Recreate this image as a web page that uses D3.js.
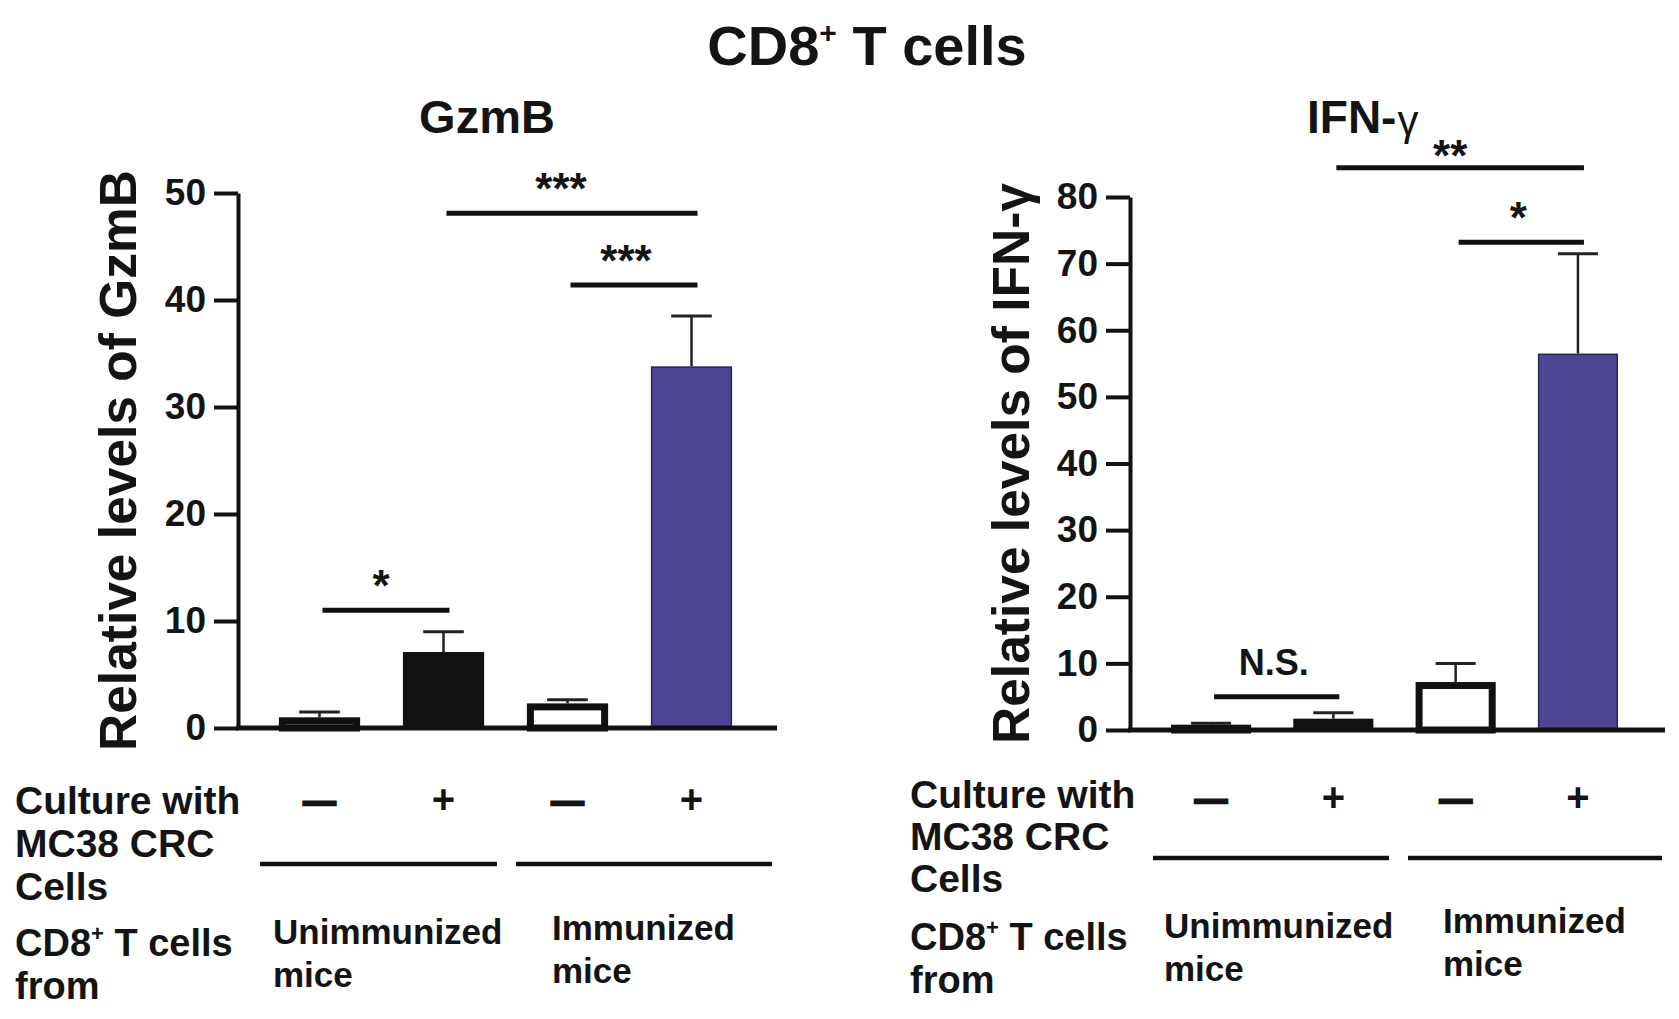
<!DOCTYPE html>
<html>
<head>
<meta charset="utf-8">
<script src="https://cdn.jsdelivr.net/npm/d3@7"></script>
<style>
  html, body { margin: 0; padding: 0; background: #fff; }
  svg { display: block; }
  text { font-family: "Liberation Sans", Arial, sans-serif; fill: #141414; }
</style>
</head>
<body>
<svg id="chart"></svg>
<script>
// values
const conditions = ["unimm -", "unimm +", "imm -", "imm +"]
const cultureSigns = ["\u2014", "+", "\u2014", "+"]
const groupNames = [["Unimmunized", "mice"], ["Immunized", "mice"]]

const gzmbMean = [1.0, 7.1, 2.3, 33.8]
const gzmbErr = [0.5, 1.9, 0.35, 4.7]
const gzmbTicks = [0, 10, 20, 30, 40, 50]
const gzmbSig = [
  { a: 0, b: 1, y: 11.0, label: "*" },
  { a: 2, b: 3, y: 41.4, label: "***" },
  { a: 1, b: 3, y: 48.1, label: "***" }
]

const ifnMean = [0.8, 1.7, 7.2, 56.5]
const ifnErr = [0.2, 0.9, 2.8, 15.0]
const ifnTicks = [0, 10, 20, 30, 40, 50, 60, 70, 80]
const ifnSig = [
  { a: 0, b: 1, y: 5.0, label: "N.S." },
  { a: 2, b: 3, y: 73.2, label: "*" },
  { a: 1, b: 3, y: 84.4, label: "**" }
]

const barFill = ["#fff", "#111", "#fff", "#4e4594"]
const barStroke = [7, 0, 7, 1.5]

const W = 1679, H = 1019
const svg = d3.select("#chart").attr("width", W).attr("height", H)

// main title
svg.append("text")
  .attr("x", 867).attr("y", 65)
  .attr("text-anchor", "middle")
  .style("font-size", "56px").style("font-weight", "bold")
  .call(t => {
    t.append("tspan").text("CD8")
    t.append("tspan").attr("dy", -22).style("font-size", "30px").text("+")
    t.append("tspan").attr("dy", 22).text(" T cells")
  })

let panels = [
  {
    mean: gzmbMean, err: gzmbErr, ticks: gzmbTicks, sig: gzmbSig, max: 50,
    axisX: 238, axisEnd: 777, yRange: [728, 193], band: [257.5, 753.5],
    titleX: 487, titleY: 133, ylabX: 136,
    rowX: 15, rowY: [814, 857, 900, 956, 999], signY: 813,
    groupLineY: 864, groupLines: [[260, 497], [516, 772]],
    groupX: [273, 552], groupY: [944, 940],
    sigDx: [-5, -8, -11]
  },
  {
    mean: ifnMean, err: ifnErr, ticks: ifnTicks, sig: ifnSig, max: 80,
    axisX: 1130, axisEnd: 1665, yRange: [730, 197], band: [1149.9, 1639.1],
    titleX: 1307, titleY: 133, ylabX: 1029,
    rowX: 910, rowY: [808, 850, 892, 950, 993], signY: 811,
    groupLineY: 858, groupLines: [[1153, 1389], [1408, 1662]],
    groupX: [1164, 1443], groupY: [938, 933],
    sigDx: [-3, -3, -10]
  }
]

panels.forEach((p, pi) => {
  let g = svg.append("g")
  let y = d3.scaleLinear().domain([0, p.max]).range(p.yRange)
  let x = d3.scaleBand().domain(conditions).range(p.band)
    .paddingInner(0.345).paddingOuter(0.1725)
  let bw = x.bandwidth()
  let cx = i => x(conditions[i]) + bw / 2

  // panel title
  if (pi === 0) {
    g.append("text").attr("x", p.titleX).attr("y", p.titleY)
      .attr("text-anchor", "middle")
      .style("font-size", "47px").style("font-weight", "bold")
      .text("GzmB")
  } else {
    let t = g.append("text").attr("x", p.titleX).attr("y", p.titleY)
      .style("font-size", "46px").style("font-weight", "bold")
    t.append("tspan").text("IFN-")
    t.append("tspan").style("font-weight", "normal").style("font-size", "42px")
      .attr("dx", 1).attr("dy", 2).text("\u03b3")
  }

  // y axis label
  g.append("text")
    .attr("transform", `translate(${p.ylabX},${(p.yRange[0] + p.yRange[1]) / 2}) rotate(-90)`)
    .attr("text-anchor", "middle")
    .style("font-size", "51.5px").style("font-weight", "bold")
    .text(pi === 0 ? "Relative levels of GzmB" : "Relative levels of IFN-\u03b3")

  // bars
  g.selectAll(".bar")
    .data(p.mean)
    .enter()
    .append("rect")
    .attr("class", "bar")
    .attr("x", (d, i) => x(conditions[i]) + barStroke[i] / 2)
    .attr("y", (d, i) => y(d) + barStroke[i] / 2)
    .attr("width", (d, i) => bw - barStroke[i])
    .attr("height", (d, i) => Math.max(0, y(0) - y(d) - barStroke[i] / 2))
    .attr("fill", (d, i) => barFill[i])
    .attr("stroke", (d, i) => i === 3 ? "#2a2450" : "#111")
    .attr("stroke-width", (d, i) => barStroke[i])

  // error bars (upper only)
  let eb = g.selectAll(".err")
    .data(p.mean.map((m, i) => ({ m, e: p.err[i], i })))
    .enter()
    .append("g")
    .attr("class", "err")
  eb.append("line")
    .attr("x1", d => cx(d.i)).attr("x2", d => cx(d.i))
    .attr("y1", d => y(d.m)).attr("y2", d => y(d.m + d.e))
    .attr("stroke", "#222").attr("stroke-width", 2.5)
  eb.append("line")
    .attr("x1", d => cx(d.i) - bw / 4).attr("x2", d => cx(d.i) + bw / 4)
    .attr("y1", d => y(d.m + d.e)).attr("y2", d => y(d.m + d.e))
    .attr("stroke", "#222").attr("stroke-width", 3)

  // y axis
  let yAxis = g.append("g")
    .attr("transform", `translate(${p.axisX},0)`)
    .call(d3.axisLeft(y).tickValues(p.ticks).tickSize(24).tickSizeOuter(0).tickPadding(8))
  yAxis.select(".domain").attr("stroke", "#111").attr("stroke-width", 4)
  yAxis.selectAll(".tick line").attr("stroke", "#111").attr("stroke-width", 4)
  yAxis.selectAll(".tick text")
    .attr("fill", "#141414")
    .style("font-size", "37px").style("font-weight", "bold")
    .style("font-family", "'Liberation Sans', Arial, sans-serif")

  // x axis baseline
  g.append("line")
    .attr("x1", p.axisX - 2).attr("x2", p.axisEnd)
    .attr("y1", y(0)).attr("y2", y(0))
    .attr("stroke", "#111").attr("stroke-width", 5)

  // significance brackets
  p.sig.forEach((s, si) => {
    let x1 = cx(s.a) + 3
    let x2 = cx(s.b) + 6
    let ly = y(s.y)
    g.append("line")
      .attr("x1", x1).attr("x2", x2).attr("y1", ly).attr("y2", ly)
      .attr("stroke", "#111").attr("stroke-width", 5)
    let isStar = s.label.indexOf("*") >= 0
    g.append("text")
      .attr("x", (x1 + x2) / 2 + p.sigDx[si])
      .attr("y", isStar ? ly + (s.label === "**" ? 3 : -9) : ly - 22)
      .attr("text-anchor", "middle")
      .style("font-size", isStar ? "44px" : "36px").style("font-weight", "bold")
      .text(s.label)
  })

  // culture signs
  g.selectAll(".sign")
    .data(cultureSigns)
    .enter()
    .append("text")
    .attr("class", "sign")
    .attr("x", (d, i) => cx(i))
    .attr("y", (d, i) => d === "+" ? p.signY : p.signY - 1)
    .attr("text-anchor", "middle")
    .style("font-size", d => d === "+" ? "40px" : "32px")
    .style("font-weight", "bold")
    .attr("stroke", d => d === "+" ? "none" : "#141414")
    .attr("stroke-width", 2.5)
    .text(d => d)

  // group lines
  p.groupLines.forEach(l => {
    g.append("line")
      .attr("x1", l[0]).attr("x2", l[1])
      .attr("y1", p.groupLineY).attr("y2", p.groupLineY)
      .attr("stroke", "#111").attr("stroke-width", 4.5)
  })

  // group labels
  groupNames.forEach((gn, gi) => {
    gn.forEach((line, li) => {
      g.append("text")
        .attr("x", p.groupX[gi]).attr("y", p.groupY[gi] + li * 43)
        .style("font-size", "35px").style("font-weight", "bold")
        .text(line)
    })
  })

  // row labels
  let rows = ["Culture with", "MC38 CRC", "Cells"]
  rows.forEach((r, ri) => {
    g.append("text").attr("x", p.rowX).attr("y", p.rowY[ri])
      .style("font-size", "39px").style("font-weight", "bold")
      .text(r)
  })
  let cd8 = g.append("text").attr("x", p.rowX).attr("y", p.rowY[3])
    .style("font-size", "38px").style("font-weight", "bold")
  cd8.append("tspan").text("CD8")
  cd8.append("tspan").attr("dy", -15).style("font-size", "22px").text("+")
  cd8.append("tspan").attr("dy", 15).text(" T cells")
  g.append("text").attr("x", p.rowX).attr("y", p.rowY[4])
    .style("font-size", "38px").style("font-weight", "bold")
    .text("from")
})
</script>
</body>
</html>
